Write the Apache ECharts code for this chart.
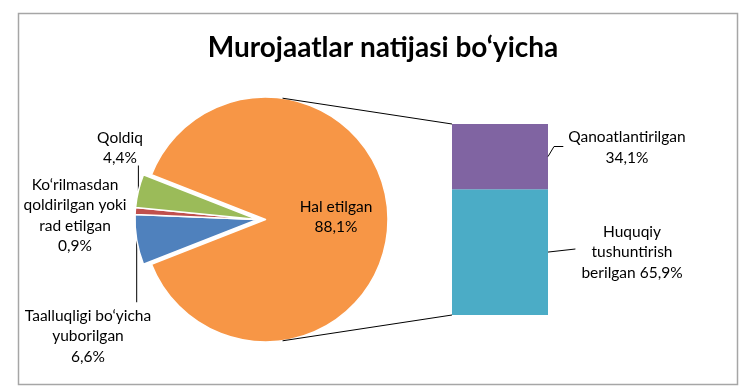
<!DOCTYPE html>
<html><head><meta charset="utf-8">
<script src="https://cdn.jsdelivr.net/npm/echarts@6/dist/echarts.min.js"></script>
<style>html,body{margin:0;padding:0;background:#fff}#c{width:747px;height:390px}</style>
</head><body><div id="c"></div>
<script>
// ---- data ----
const titleText = 'Murojaatlar natijasi bo‘yicha';
const pieNames = ['Hal etilgan', 'Taalluqligi bo‘yicha\nyuborilgan', 'Ko‘rilmasdan\nqoldirilgan yoki\nrad etilgan', 'Qoldiq'];
const pieValues = [88.1, 6.6, 0.9, 4.4];
const pieColors = ['#F79646', '#4F81BD', '#C0504D', '#9BBB59'];
const barNames = ['Huquqiy\ntushuntirish\nberilgan', 'Qanoatlantirilgan'];
const barValues = [65.9, 34.1];
const barColors = ['#4BACC6', '#8064A2'];
const barLabelSep = [' ', '\n'];

// ---- layout (styles/positions) ----
const FONT = 'Lato';
const FS = 15.5;
const LH = 20.5;
const pieCenter = [265.5, 219.5];
const explode = 8;
const pieRadius = 122.5;
const pieLabelPos = [[336, 217], [88, 336], [75, 215.5], [120, 148]];
const pieLineShow = [false, true, false, true];
const barLabelPos = [[632, 252], [627, 147.5]];
const fmt = v => v.toFixed(1).replace('.', ',') + '%';

const total = pieValues.reduce((a, b) => a + b, 0);
const startAngle = 180 - (360 - pieValues[0] / total * 360) / 2;

const chart = echarts.init(document.getElementById('c'), null, {renderer: 'canvas'});

const labelBase = {color: '#000', fontFamily: FONT, fontSize: FS, lineHeight: LH};

// main slice (non-exploded) and the exploded small slices, drawn as two pies from the same arrays
function pieSeries(isMain) {
  return {
    type: 'pie',
    center: isMain ? pieCenter : [pieCenter[0] - explode, pieCenter[1]],
    radius: pieRadius,
    startAngle: startAngle,
    clockwise: true,
    avoidLabelOverlap: false,
    silent: true,
    emphasis: {disabled: true},
    label: Object.assign({show: true, formatter: p => p.name + '\n' + fmt(p.value)}, labelBase),
    labelLine: {show: true, length: 10, length2: 10, lineStyle: {color: '#000', width: 1}},
    labelLayout: function (p) {
      const i = p.dataIndex;
      const pos = pieLabelPos[i];
      const res = {x: pos[0], y: pos[1], align: 'center', verticalAlign: 'middle'};
      if (pieLineShow[i] && p.labelLinePoints) {
        const a = p.labelLinePoints[0];
        const h = p.labelRect.height;
        const edge = pos[1] < a[1] ? pos[1] + h / 2 - 3 : pos[1] - h / 2 - 3;
        res.labelLinePoints = [[a[0], a[1]], [a[0], edge], [a[0], edge]];
      }
      return res;
    },
    data: pieValues.map((v, i) => {
      const own = isMain ? i === 0 : i !== 0;
      return {
        name: pieNames[i],
        value: v,
        itemStyle: own ? {color: pieColors[i], borderColor: '#fff', borderWidth: 1.5}
                       : {color: 'rgba(0,0,0,0)', borderWidth: 0},
        label: own ? {show: true, position: i === 0 ? 'inside' : 'outside'} : {show: false},
        labelLine: {show: own && pieLineShow[i]}
      };
    })
  };
}

const barSeries = barValues.map((v, i) => ({
  type: 'bar',
  stack: 'all',
  barWidth: '100%',
  silent: true,
  data: [v],
  itemStyle: {color: barColors[i]},
  label: Object.assign({
    show: true, position: 'right', align: 'center',
    formatter: () => barNames[i] + barLabelSep[i] + fmt(v)
  }, labelBase),
  labelLayout: function () {
    const pos = barLabelPos[i];
    return {x: pos[0], y: pos[1], align: 'center', verticalAlign: 'middle'};
  }
}));

chart.setOption({
  animation: false,
  backgroundColor: '#fff',
  title: {
    text: titleText, left: 378, top: 29, textAlign: 'center',
    textStyle: {fontFamily: FONT, fontSize: 28, fontWeight: 'bold', color: '#000'}
  },
  grid: {left: 452, top: 124, width: 96, height: 191},
  xAxis: {type: 'category', data: [''], show: false},
  yAxis: {type: 'value', min: 0, max: 100, show: false},
  series: [pieSeries(true), pieSeries(false)].concat(barSeries)
});

// measure widest label line to place leader lines for the bar labels
const ctx = document.createElement('canvas').getContext('2d');
ctx.font = FS + 'px ' + FONT;
function labelWidth(text) {
  return Math.max.apply(null, text.split('\n').map(t => ctx.measureText(t).width));
}

// connector lines from pie to the bar (derived from pie geometry and bar grid)
const topLeft = chart.convertToPixel({gridIndex: 0}, [0, 100]);
const botLeft = chart.convertToPixel({gridIndex: 0}, [0, 0]);
const barHalf = 48;
const gridLeft = topLeft[0] - barHalf;
const barRight = topLeft[0] + barHalf;
const ang = 82 * Math.PI / 180;
const pTop = [pieCenter[0] + pieRadius * Math.cos(ang), pieCenter[1] - pieRadius * Math.sin(ang)];
const pBot = [pieCenter[0] + pieRadius * Math.cos(ang), pieCenter[1] + pieRadius * Math.sin(ang)];

// bar label leader lines: from the middle of each segment's right edge to its label
let cum = 0;
const leaderLines = barValues.map((v, i) => {
  const yMid = chart.convertToPixel({gridIndex: 0}, [0, cum + v / 2])[1];
  cum += v;
  const pos = barLabelPos[i];
  const left = pos[0] - labelWidth(barNames[i] + barLabelSep[i] + fmt(v)) / 2;
  const pts = i === 1
    ? [[barRight, yMid], [barRight + 6, pos[1] - 1], [left - 5, pos[1] - 1]]
    : [[barRight, yMid], [left - 6, pos[1] - 3]];
  return {type: 'polyline', shape: {points: pts}, style: {stroke: '#000', lineWidth: 1, fill: 'none'}, z: 10, silent: true};
});

chart.setOption({
  graphic: [
    {type: 'rect', shape: {x: 18.5, y: 13.5, width: 719, height: 371}, style: {fill: 'none', stroke: '#a6a6a6', lineWidth: 1.5}, silent: true},
    {type: 'line', shape: {x1: pTop[0], y1: pTop[1], x2: gridLeft, y2: topLeft[1]}, style: {stroke: '#000', lineWidth: 1}, z: 10, silent: true},
    {type: 'line', shape: {x1: pBot[0], y1: pBot[1], x2: gridLeft, y2: botLeft[1]}, style: {stroke: '#000', lineWidth: 1}, z: 10, silent: true}
  ].concat(leaderLines)
});
</script></body></html>
